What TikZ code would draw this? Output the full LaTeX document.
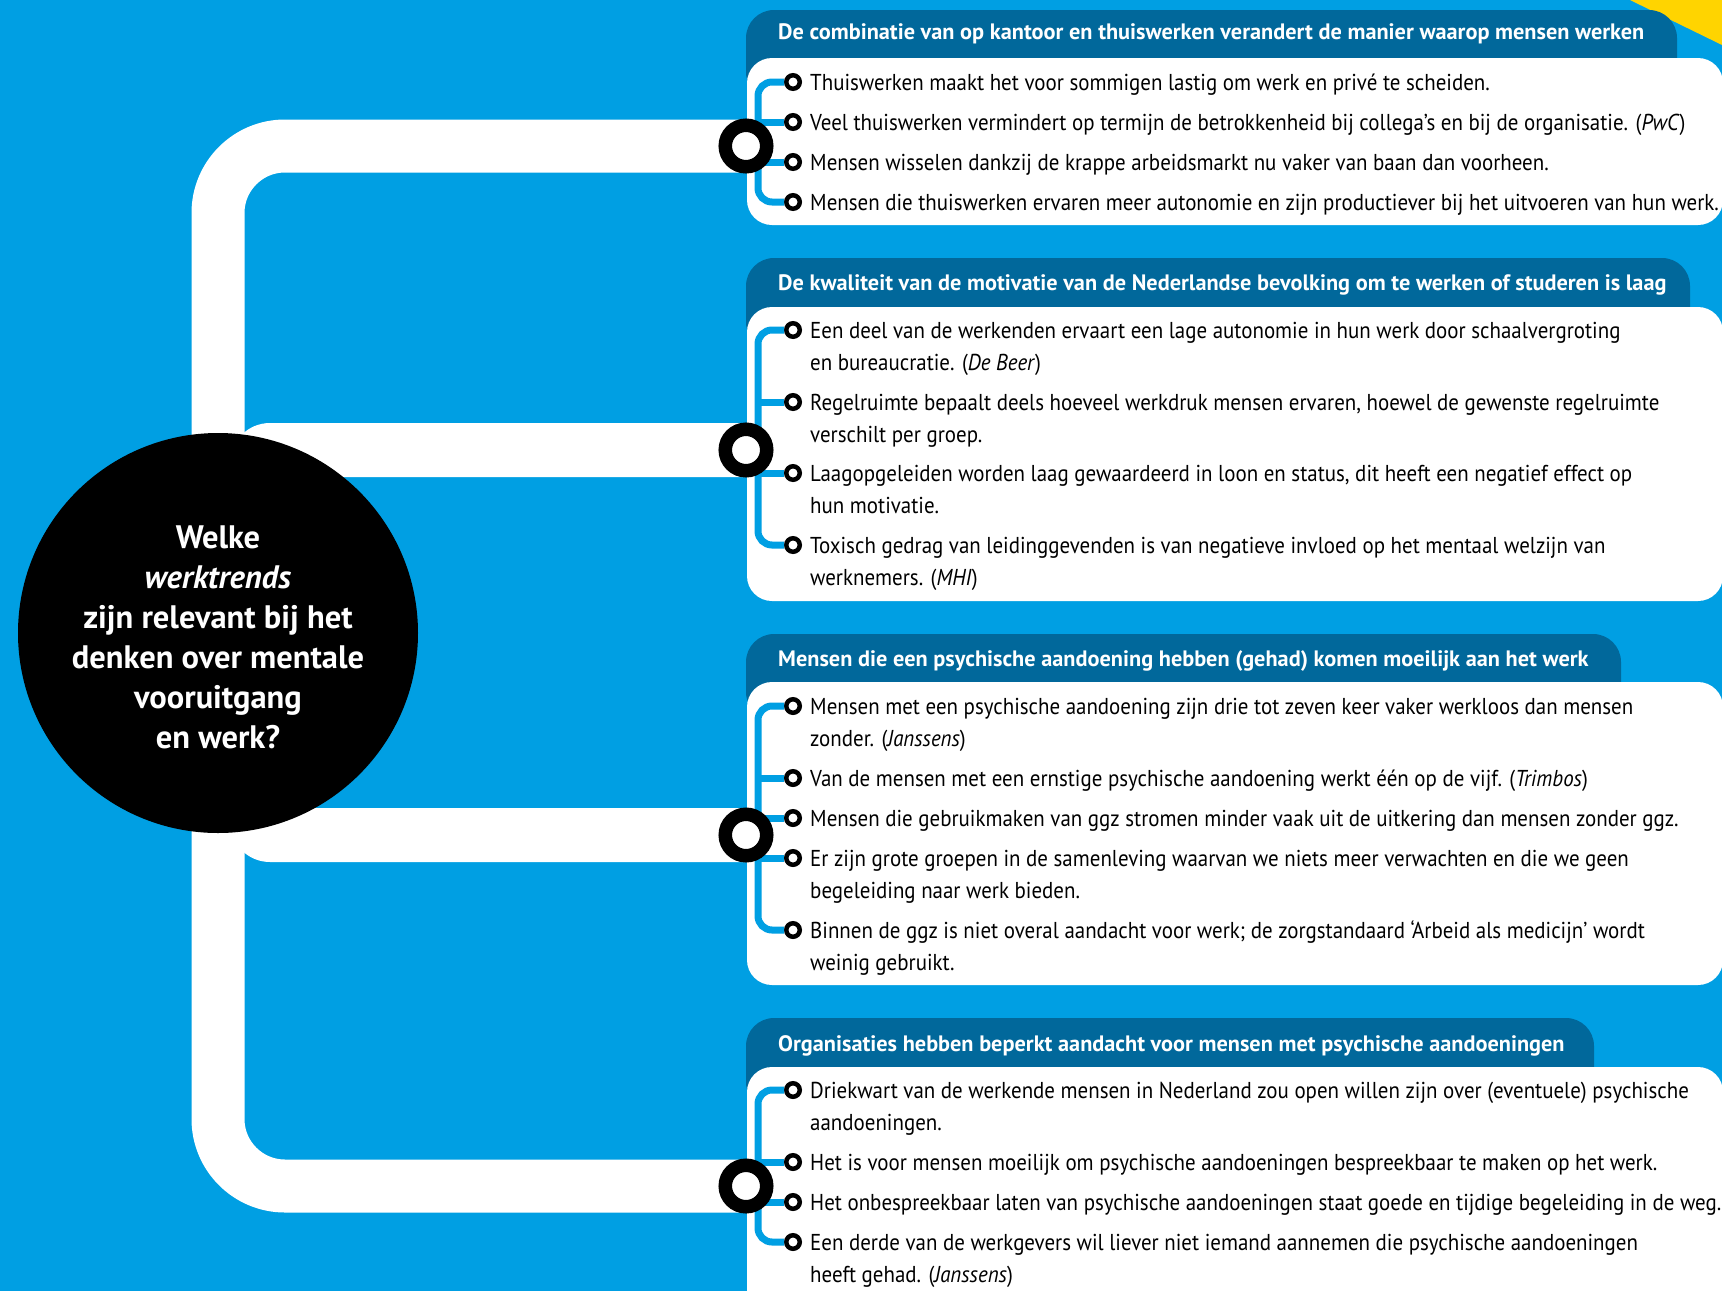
\documentclass[tikz,border=0pt]{standalone}
\usepackage{fontspec}
\setmainfont[FakeStretch=0.91]{PT Sans}
\newfontfamily\breedfont{PT Sans}

\definecolor{rijksblauw}{HTML}{009FE3}
\definecolor{donkerblauw}{HTML}{01689B}
\definecolor{geel}{HTML}{FFD400}

\tikzset{
  spoor/.style={draw=white, line width=53pt},
  kop/.style={fill=donkerblauw, rounded corners=28pt},
  kaart/.style={fill=white, rounded corners=25pt},
  ring/.style={circle, draw=black, fill=white, line width=13.5pt, minimum size=41.5pt, inner sep=0pt},
  bolletje/.style={circle, draw=black, fill=white, line width=4.5pt, minimum size=13.5pt, inner sep=0pt},
  haak/.style={draw=rijksblauw, line width=7pt, rounded corners=14pt},
  koptekst/.style={anchor=base west, inner sep=0pt, text=white, font=\breedfont\fontsize{22.3}{26}\selectfont\bfseries},
  punt/.style={anchor=north west, inner sep=0pt, yshift=13.7pt, align=left, font=\fontsize{23}{32}\selectfont},
  vraag/.style={circle, fill=black, minimum size=400pt, inner sep=0pt},
  vraagtekst/.style={anchor=north, inner sep=0pt, align=center, text=white, font=\breedfont\fontsize{32.5}{40}\selectfont\bfseries},
}

\begin{document}
\begin{tikzpicture}[x=1pt, y=1pt]
  \useasboundingbox (0,0) rectangle (1722,-1291);
  \clip (0,0) rectangle (1722,-1291);
  \fill[rijksblauw] (0,0) rectangle (1722,-1291);
  \fill[geel] (1630,0) -- (1722,0) -- (1722,-45) -- cycle;

  % the white track from the question to the four themes
  \coordinate (k1) at (746,-146);
  \coordinate (k2) at (746,-450);
  \coordinate (k3) at (746,-835);
  \coordinate (k4) at (746,-1186);
  \draw[spoor, rounded corners=67pt] (k1) -- (218,-146) -- (218,-1186) -- (k4);
  \fill[white, rounded corners=40pt] (230,-423) rectangle (800,-477);
  \fill[white, rounded corners=40pt] (230,-808) rectangle (800,-862);

  % headers and cards
  \fill[kop] (746,-10) rectangle (1677,-100);
  \fill[kop] (746,-258) rectangle (1690,-350);
  \fill[kop] (746,-634) rectangle (1621,-720);
  \fill[kop] (746,-1018) rectangle (1594,-1110);
  \fill[kaart] (747,-58) rectangle (1723,-225);
  \fill[kaart] (747,-307) rectangle (1723,-601);
  \fill[kaart] (747,-682) rectangle (1723,-985);
  \fill[kaart] (747,-1067) rectangle (1723,-1330);

  \node[koptekst] (kop1) at (778,-39) {De combinatie van op kantoor en thuiswerken verandert de manier waarop mensen werken};
  \node[koptekst] (kop2) at (778,-290) {De kwaliteit van de motivatie van de Nederlandse bevolking om te werken of studeren is laag};
  \node[koptekst] (kop3) at (778,-666) {Mensen die een psychische aandoening hebben (gehad) komen moeilijk aan het werk};
  \node[koptekst] (kop4) at (778,-1051) {Organisaties hebben beperkt aandacht voor mensen met psychische aandoeningen};

  % theme 1
  \node[bolletje] (p11) at (793,-82) {};
  \node[bolletje] (p12) at (793,-122) {};
  \node[bolletje] (p13) at (793,-162) {};
  \node[bolletje] (p14) at (793,-202) {};
  \coordinate (h1) at (758,-202);
  \draw[haak] (p11) -| (h1) -- (p14);
  \draw[haak] (p12) -- (p12 -| h1);
  \draw[haak] (p13) -- (p13 -| h1);
  \node[punt] (t11) at (810,-82) {\strut Thuiswerken maakt het voor sommigen lastig om werk en privé te scheiden.};
  \node[punt] (t12) at (810,-122) {\strut Veel thuiswerken vermindert op termijn de betrokkenheid bij collega’s en bij de organisatie. (\textit{PwC})};
  \node[punt] (t13) at (810,-162) {\strut Mensen wisselen dankzij de krappe arbeidsmarkt nu vaker van baan dan voorheen.};
  \node[punt] (t14) at (810,-202) {\strut Mensen die thuiswerken ervaren meer autonomie en zijn productiever bij het uitvoeren van hun werk.};

  % theme 2
  \node[bolletje] (p21) at (793,-330) {};
  \node[bolletje] (p22) at (793,-402) {};
  \node[bolletje] (p23) at (793,-473) {};
  \node[bolletje] (p24) at (793,-545) {};
  \coordinate (h2) at (758,-545);
  \draw[haak] (p21) -| (h2) -- (p24);
  \draw[haak] (p22) -- (p22 -| h2);
  \draw[haak] (p23) -- (p23 -| h2);
  \node[punt] (t21) at (810,-330) {\strut Een deel van de werkenden ervaart een lage autonomie in hun werk door schaalvergroting\\en bureaucratie. (\textit{De Beer})};
  \node[punt] (t22) at (810,-402) {\strut Regelruimte bepaalt deels hoeveel werkdruk mensen ervaren, hoewel de gewenste regelruimte\\verschilt per groep.};
  \node[punt] (t23) at (810,-473) {\strut Laagopgeleiden worden laag gewaardeerd in loon en status, dit heeft een negatief effect op\\hun motivatie.};
  \node[punt] (t24) at (810,-545) {\strut Toxisch gedrag van leidinggevenden is van negatieve invloed op het mentaal welzijn van\\werknemers. (\textit{MHI})};

  % theme 3
  \node[bolletje] (p31) at (793,-706) {};
  \node[bolletje] (p32) at (793,-778) {};
  \node[bolletje] (p33) at (793,-818) {};
  \node[bolletje] (p34) at (793,-858) {};
  \node[bolletje] (p35) at (793,-930) {};
  \coordinate (h3) at (758,-930);
  \draw[haak] (p31) -| (h3) -- (p35);
  \draw[haak] (p32) -- (p32 -| h3);
  \draw[haak] (p33) -- (p33 -| h3);
  \draw[haak] (p34) -- (p34 -| h3);
  \node[punt] (t31) at (810,-706) {\strut Mensen met een psychische aandoening zijn drie tot zeven keer vaker werkloos dan mensen\\zonder. (\textit{Janssens})};
  \node[punt] (t32) at (810,-778) {\strut Van de mensen met een ernstige psychische aandoening werkt één op de vijf. (\textit{Trimbos})};
  \node[punt] (t33) at (810,-818) {\strut Mensen die gebruikmaken van ggz stromen minder vaak uit de uitkering dan mensen zonder ggz.};
  \node[punt] (t34) at (810,-858) {\strut Er zijn grote groepen in de samenleving waarvan we niets meer verwachten en die we geen\\begeleiding naar werk bieden.};
  \node[punt] (t35) at (810,-930) {\strut Binnen de ggz is niet overal aandacht voor werk; de zorgstandaard ‘Arbeid als medicijn’ wordt\\weinig gebruikt.};

  % theme 4
  \node[bolletje] (p41) at (793,-1090) {};
  \node[bolletje] (p42) at (793,-1162) {};
  \node[bolletje] (p43) at (793,-1202) {};
  \node[bolletje] (p44) at (793,-1242) {};
  \coordinate (h4) at (758,-1242);
  \draw[haak] (p41) -| (h4) -- (p44);
  \draw[haak] (p42) -- (p42 -| h4);
  \draw[haak] (p43) -- (p43 -| h4);
  \node[punt] (t41) at (810,-1090) {\strut Driekwart van de werkende mensen in Nederland zou open willen zijn over (eventuele) psychische\\aandoeningen.};
  \node[punt] (t42) at (810,-1162) {\strut Het is voor mensen moeilijk om psychische aandoeningen bespreekbaar te maken op het werk.};
  \node[punt] (t43) at (810,-1202) {\strut Het onbespreekbaar laten van psychische aandoeningen staat goede en tijdige begeleiding in de weg.};
  \node[punt] (t44) at (810,-1242) {\strut Een derde van de werkgevers wil liever niet iemand aannemen die psychische aandoeningen\\heeft gehad. (\textit{Janssens})};

  % stations where the track meets each card
  \node[ring] (r1) at (k1) {};
  \node[ring] (r2) at (k2) {};
  \node[ring] (r3) at (k3) {};
  \node[ring] (r4) at (k4) {};

  % the question
  \node[vraag] (vraag) at (218,-633) {};
  \node[vraagtekst] (vraagtekst) at (218,-520) {\strut Welke\\\textit{werktrends}\\zijn relevant bij het\\denken over mentale\\vooruitgang\\en werk?};
\end{tikzpicture}
\end{document}
